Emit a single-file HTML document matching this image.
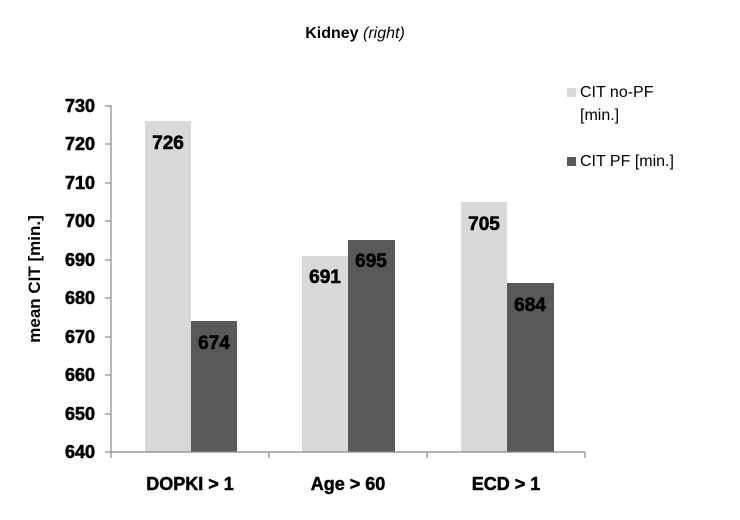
<html><body style="margin:0;background:#fff">
<svg width="740" height="520" xmlns="http://www.w3.org/2000/svg" font-family="Liberation Sans, Arial, sans-serif" font-weight="bold">
<text x="355" y="38" font-size="16" text-anchor="middle">Kidney <tspan font-style="italic" font-weight="normal">(right)</tspan></text>
<g fill="#d9d9d9">
<rect x="145" y="121" width="46" height="331"/>
<rect x="302" y="256" width="46" height="196"/>
<rect x="461" y="202" width="46" height="250"/>
</g>
<g fill="#595959">
<rect x="191" y="321" width="46" height="131"/>
<rect x="348" y="240" width="47" height="212"/>
<rect x="507" y="283" width="47" height="169"/>
</g>
<g stroke="#888" stroke-width="1.2">
<line x1="111" y1="105" x2="111" y2="452"/>
<line x1="111" y1="452" x2="585" y2="452"/>
<line x1="105" y1="106" x2="111" y2="106"/><line x1="105" y1="144" x2="111" y2="144"/>
<line x1="105" y1="183" x2="111" y2="183"/><line x1="105" y1="221" x2="111" y2="221"/>
<line x1="105" y1="260" x2="111" y2="260"/><line x1="105" y1="298" x2="111" y2="298"/>
<line x1="105" y1="337" x2="111" y2="337"/><line x1="105" y1="375" x2="111" y2="375"/>
<line x1="105" y1="414" x2="111" y2="414"/><line x1="105" y1="452" x2="111" y2="452"/>
<line x1="111" y1="452" x2="111" y2="458"/><line x1="269" y1="452" x2="269" y2="458"/>
<line x1="427" y1="452" x2="427" y2="458"/><line x1="585" y1="452" x2="585" y2="458"/>
</g>
<g font-size="18" text-anchor="end" stroke="#000" stroke-width="0.6">
<text x="95" y="112">730</text><text x="95" y="150">720</text><text x="95" y="189">710</text>
<text x="95" y="227">700</text><text x="95" y="266">690</text><text x="95" y="304">680</text>
<text x="95" y="343">670</text><text x="95" y="381">660</text><text x="95" y="420">650</text>
<text x="95" y="458">640</text>
</g>
<text transform="translate(40,279) rotate(-90)" font-size="17" text-anchor="middle">mean CIT [min.]</text>
<g font-size="19" text-anchor="middle" stroke="#000" stroke-width="0.6">
<text x="168" y="149">726</text><text x="214" y="349">674</text>
<text x="325" y="283">691</text><text x="371" y="267">695</text>
<text x="484" y="230">705</text><text x="530" y="311">684</text>
</g>
<g font-size="18" text-anchor="middle" stroke="#000" stroke-width="0.5">
<text x="190" y="490">DOPKI &gt; 1</text><text x="348" y="490">Age &gt; 60</text><text x="506" y="490">ECD &gt; 1</text>
</g>
<rect x="567" y="88" width="9" height="9" fill="#d9d9d9"/>
<rect x="567" y="157" width="9" height="9" fill="#595959"/>
<g font-size="16" font-weight="normal">
<text x="580" y="97">CIT no-PF</text><text x="580" y="120">[min.]</text>
<text x="580" y="166">CIT PF [min.]</text>
</g>
</svg>
</body></html>
